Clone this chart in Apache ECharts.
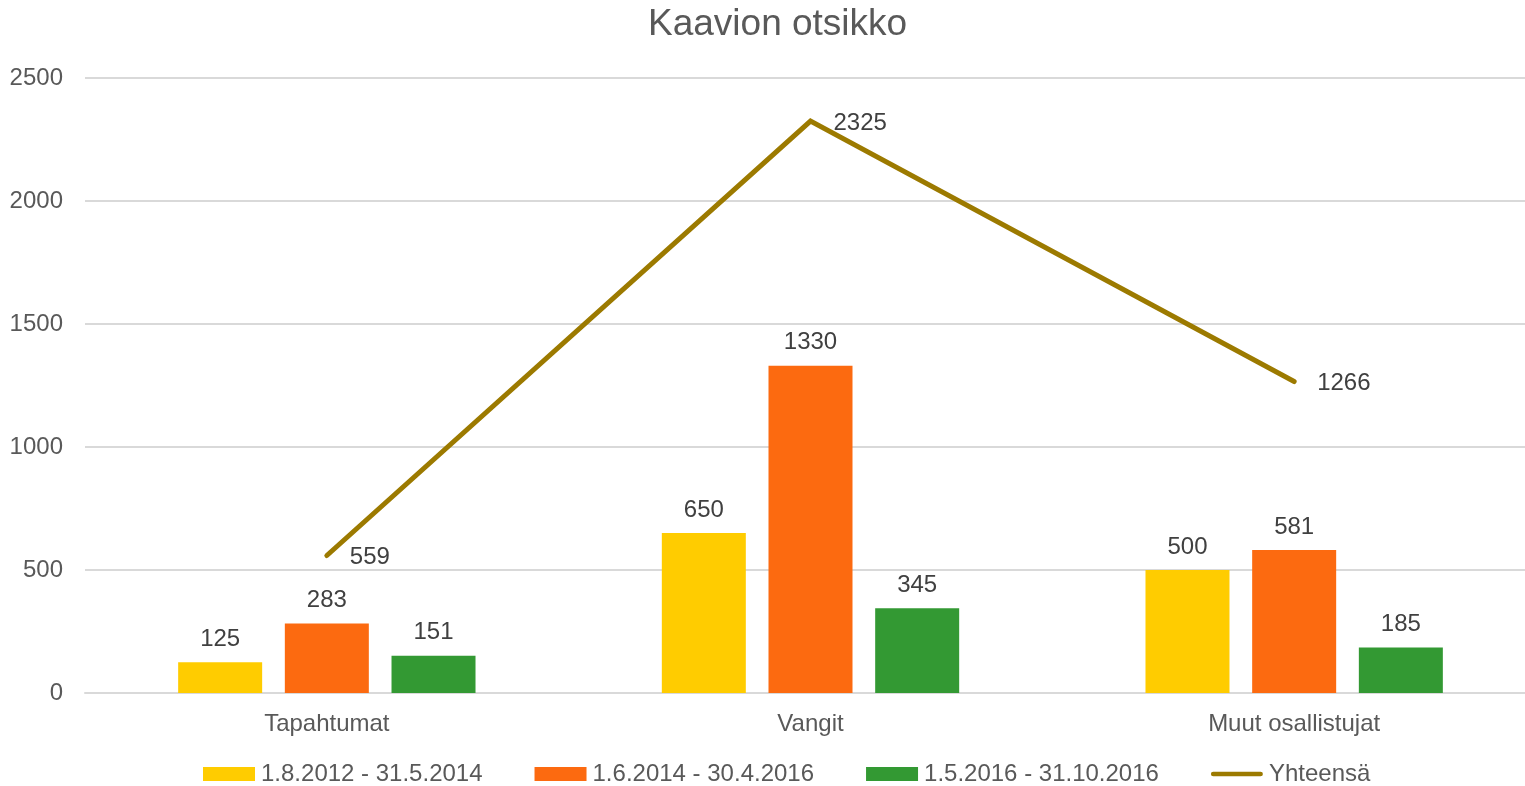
<!DOCTYPE html>
<html><head><meta charset="utf-8">
<script src="https://cdn.jsdelivr.net/npm/echarts@6/dist/echarts.min.js"></script>
<style>html,body{margin:0;padding:0;background:#fff}#c{width:1525px;height:786px}</style>
</head><body><div id="c"></div>
<script>
const categories = ['Tapahtumat', 'Vangit', 'Muut osallistujat'];
const seriesNames = ['1.8.2012 - 31.5.2014', '1.6.2014 - 30.4.2016', '1.5.2016 - 31.10.2016', 'Yhteensä'];
const s1 = [125, 650, 500];
const s2 = [283, 1330, 581];
const s3 = [151, 345, 185];
const total = [559, 2325, 1266];
const yTicks = [0, 500, 1000, 1500, 2000, 2500];

const font = 'Liberation Sans, Arial, sans-serif';
const lineColor = '#9C7A00';
const chart = echarts.init(document.getElementById('c'));
const barLabel = {show: true, position: 'top', distance: 11, color: '#404040', fontSize: 24, fontFamily: font};
chart.setOption({
  animation: false,
  title: {text: 'Kaavion otsikko', left: 643, top: 1,
    textStyle: {color: '#595959', fontSize: 37, fontWeight: 'normal', fontFamily: font}},
  legend: {bottom: -5, left: 198, itemWidth: 52, itemHeight: 14, itemGap: 52,
    symbolKeepAspect: true,
    textStyle: {color: '#595959', fontSize: 24, fontFamily: font, padding: [0, 0, 0, 1]},
    data: [{name: seriesNames[0], icon: 'rect'}, {name: seriesNames[1], icon: 'rect'}, {name: seriesNames[2], icon: 'rect'},
      {name: seriesNames[3], icon: 'path://M2.5,0 L53.5,0 A2.5,2.5 0 0 1 53.5,5 L2.5,5 A2.5,2.5 0 0 1 2.5,0 Z',
       itemStyle: {color: lineColor}}]},
  grid: {left: 85, top: 78, width: 1451, bottom: 93, containLabel: false, outerBoundsMode: 'none'},
  xAxis: {type: 'category', data: categories,
    axisLine: {lineStyle: {color: '#d9d9d9', width: 2}}, axisTick: {show: false},
    axisLabel: {color: '#595959', fontSize: 24, fontFamily: font, margin: 19}},
  yAxis: {type: 'value', min: yTicks[0], max: yTicks[yTicks.length - 1], interval: 500,
    axisLine: {show: false}, axisTick: {show: false},
    splitLine: {lineStyle: {color: '#d9d9d9', width: 2}},
    axisLabel: {color: '#595959', fontSize: 24, fontFamily: font, margin: 22, formatter: v => String(v)}},
  series: [
    {name: seriesNames[0], type: 'bar', data: s1, barWidth: 84, barGap: '27%', itemStyle: {color: '#FFCC00'}, label: barLabel},
    {name: seriesNames[1], type: 'bar', data: s2, barWidth: 84, barGap: '27%', itemStyle: {color: '#FC6A10'}, label: barLabel},
    {name: seriesNames[2], type: 'bar', data: s3, barWidth: 84, barGap: '27%', itemStyle: {color: '#339933'}, label: barLabel},
    {name: seriesNames[3], type: 'line', data: total, symbol: 'none', z: 5,
      lineStyle: {color: lineColor, width: 5, cap: 'round', join: 'miter'}, itemStyle: {color: lineColor}},
    {name: 'totalLabels', type: 'scatter', data: total, symbolSize: 2, itemStyle: {color: lineColor, opacity: 1}, z: 4,
      label: {show: true, position: 'right', distance: 22, offset: [0, 2], color: '#404040', opacity: 1, fontSize: 24, fontFamily: font}}
  ]
});
</script></body></html>
